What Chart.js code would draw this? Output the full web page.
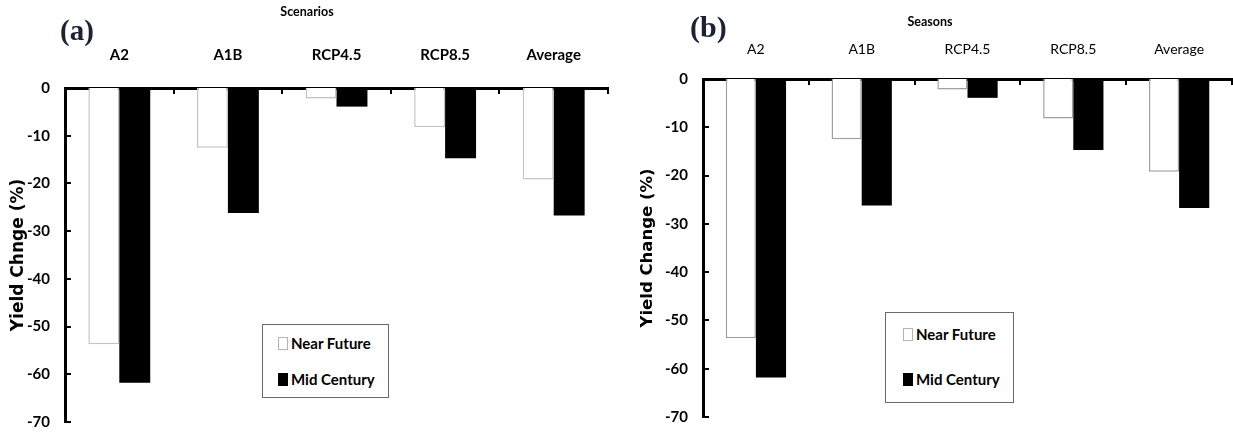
<!DOCTYPE html>
<html>
<head>
<meta charset="utf-8">
<script src="https://cdn.jsdelivr.net/npm/chart.js@4/dist/chart.umd.min.js"></script>
<style>
  body { margin: 0; background: #fff; }
  #wrap { position: relative; width: 1233px; height: 433px; overflow: hidden; }
  .panel { position: absolute; top: 0; height: 433px; }
  .tag { position: absolute; font-family: "Liberation Serif", serif; font-weight: bold; line-height: 1; color: #1b2236; }
  .axis-name { position: absolute; transform: translateX(-50%); font-family: Lato, sans-serif; font-weight: bold; font-size: 12.5px; line-height: 1; white-space: nowrap; }
  .legend { position: absolute; border: 1px solid #6a6a6a; background: #fff; box-sizing: border-box;
            font-family: Lato, sans-serif; font-weight: bold; font-size: 15px; }
  .legend .item { position: absolute; white-space: nowrap; line-height: 1; }
  .legend .sw { display: inline-block; width: 10px; height: 13px; box-sizing: border-box; border: 1px solid; margin-right: 3px; vertical-align: -1px; }
</style>
</head>
<body>
<div id="wrap">
  <div class="panel" style="left:0;width:616px"><canvas id="chartA"></canvas></div>
  <div class="panel" style="left:616px;width:617px"><canvas id="chartB"></canvas></div>

  <div class="tag" style="left:60px;top:16px;font-size:29px">(a)</div>
  <div class="tag" style="left:690px;top:12px;font-size:30px">(b)</div>
  <div class="axis-name" style="left:307px;top:6px">Scenarios</div>
  <div class="axis-name" style="left:930px;top:16px">Seasons</div>

  <div class="legend" id="legendA" style="left:262px;top:324px;width:127px;height:74px"></div>
  <div class="legend" id="legendB" style="left:885px;top:312px;width:129px;height:91px"></div>
</div>

<script>
// yield change per scenario, two time horizons
const scenarios = ["A2", "A1B", "RCP4.5", "RCP8.5", "Average"];
const nearFuture = [-53.7, -12.5, -2.2, -8.2, -19.2];
const midCentury = [-61.8, -26.2, -3.9, -14.7, -26.7];
const seriesNames = ["Near Future", "Mid Century"];
const yMin = -70, yMax = 0, yStep = 10;

const SANS = "Lato, sans-serif";

// small inward tick marks on both axes
const inwardTicks = {
  id: "inwardTicks",
  afterDraw(chart) {
    const { ctx, chartArea, scales: { x, y } } = chart;
    ctx.save();
    ctx.strokeStyle = "#000";
    ctx.lineWidth = 2;
    ctx.beginPath();
    y.ticks.forEach(t => {
      if (t.value === yMax) return;
      const py = Math.round(y.getPixelForValue(t.value));
      ctx.moveTo(chartArea.left, py);
      ctx.lineTo(chartArea.left + 6, py);
    });
    for (let i = 1; i <= x.ticks.length; i++) {
      const px = Math.round(x.getPixelForValue(i - 0.5));
      ctx.moveTo(px, chartArea.top);
      ctx.lineTo(px, chartArea.top + 6);
    }
    ctx.stroke();
    ctx.restore();
  }
};

function makePanel(id, cfg) {
  const chart = new Chart(document.getElementById(id), {
    type: "bar",
    data: {
      labels: scenarios,
      datasets: [
        { label: seriesNames[0], data: nearFuture, backgroundColor: "#ffffff",
          borderColor: cfg.nearBorder, borderWidth: 1.5 },
        { label: seriesNames[1], data: midCentury, backgroundColor: "#000000",
          borderColor: "#000000", borderWidth: 0 }
      ]
    },
    options: {
      responsive: true,
      maintainAspectRatio: false,
      animation: false,
      datasets: { bar: { categoryPercentage: 0.57, barPercentage: 1 } },
      layout: { padding: { left: 0, right: cfg.padRight, top: 0, bottom: cfg.padBottom } },
      plugins: { legend: { display: false }, tooltip: { enabled: false } },
      scales: {
        x: {
          position: "top",
          z: 1,
          grid: { display: false },
          border: { display: true, color: "#000", width: 3 },
          ticks: {
            color: "#000",
            padding: cfg.xPad,
            font: { family: SANS, size: cfg.xFont, weight: cfg.xWeight }
          },
          afterFit(s) { s.height = cfg.top; }
        },
        y: {
          min: yMin, max: yMax,
          z: 1,
          // tick gap comes from tickLength so the padding doesn't eat the bottom margin
          grid: { display: false, tickLength: 15 },
          border: { display: true, color: "#000", width: 3 },
          ticks: {
            stepSize: yStep,
            color: "#000",
            padding: 0,
            font: { family: SANS, size: 15, weight: "bold" }
          },
          title: {
            display: true,
            text: cfg.yTitle,
            color: "#000",
            padding: { top: cfg.titlePad, bottom: 0 },
            font: { family: "'DejaVu Sans', sans-serif", size: cfg.titleFont, weight: "bold" }
          },
          afterFit(s) { s.width = cfg.left; }
        }
      }
    },
    plugins: [inwardTicks]
  });

  // legend built from the chart's own legend items
  const box = document.getElementById(cfg.legendId);
  const items = chart.options.plugins.legend.labels.generateLabels(chart);
  box.innerHTML = items.map((it, i) =>
    `<div class="item" style="left:${cfg.legendX}px;top:${cfg.legendRows[i]}px">` +
    `<span class="sw" style="background:${it.fillStyle};border-color:${i === 0 ? "#b5b5b5" : "#000"}"></span>${it.text}</div>`
  ).join("");
  return chart;
}

makePanel("chartA", {
  left: 65, top: 88, padRight: 8, padBottom: 11, xPad: 16, xFont: 15, xWeight: "bold",
  titlePad: 8, titleFont: 17, yTitle: "Yield Chnge (%)", nearBorder: "#c4c4c4",
  legendId: "legendA", legendX: 15, legendRows: [11, 47]
});

makePanel("chartB", {
  left: 87, top: 79, padRight: 1, padBottom: 16, xPad: 13, xFont: 14, xWeight: "normal",
  titlePad: 22, titleFont: 16.5, yTitle: "Yield Change (%)", nearBorder: "#a0a0a0",
  legendId: "legendB", legendX: 17, legendRows: [14, 59]
});
</script>
</body>
</html>
